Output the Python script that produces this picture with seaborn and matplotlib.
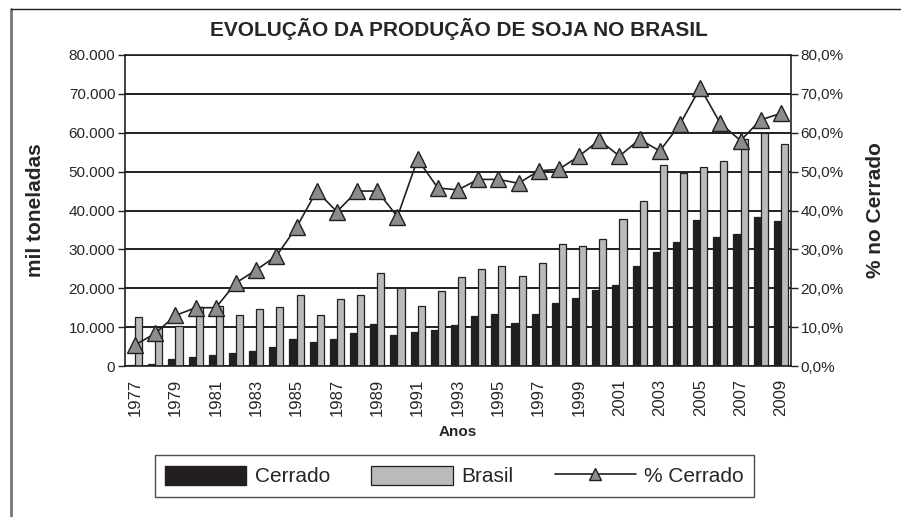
#!/usr/bin/env python

import numpy as np
import pandas as pd
import seaborn as sns
import matplotlib
matplotlib.use("Agg")
import matplotlib.pyplot as plt
from matplotlib.patches import Patch
from matplotlib.lines import Line2D
from matplotlib.ticker import FuncFormatter

# Produção de soja (mil toneladas) e participação do Cerrado (%)
anos = list(range(1977, 2010))
cerrado = [300, 400, 1700, 2400, 2900, 3300, 3900, 5000, 7000, 6300,
           7000, 8500, 10800, 8100, 8700, 9300, 10500, 12900, 13300, 11100,
           13400, 16300, 17400, 19600, 20800, 25600, 29300, 31800, 37500, 33200,
           34000, 38200, 37300]
brasil = [12600, 10100, 10300, 15200, 15500, 13000, 14700, 15200, 18300, 13100,
          17200, 18300, 24000, 20100, 15400, 19400, 22800, 25000, 25700, 23100,
          26600, 31400, 30900, 32700, 37700, 42500, 51700, 49600, 51300, 52800,
          58400, 60000, 57000]
pct_cerrado = [5.4, 8.4, 13.0, 15.0, 15.0, 21.4, 24.7, 28.3, 35.7, 45.0,
               39.7, 45.0, 45.0, 38.4, 53.2, 45.8, 45.3, 48.0, 48.0, 47.0,
               50.2, 50.6, 54.0, 58.1, 54.0, 58.3, 55.3, 62.2, 71.6, 62.4,
               58.0, 63.3, 65.0]

PRETO = "#231f20"
CINZA = "#b9babc"
TRIANGULO = "#8c8c8c"

sns.set_style("white")
plt.rcParams["font.family"] = ["Liberation Sans", "DejaVu Sans"]

df = pd.DataFrame({
    "ano": anos * 2,
    "serie": ["Cerrado"] * len(anos) + ["Brasil"] * len(anos),
    "valor": cerrado + brasil,
})
df_pct = pd.DataFrame({"pos": np.arange(len(anos)), "pct": pct_cerrado})

fig = plt.figure(figsize=(9.01, 5.17), dpi=100)
ax = fig.add_axes([125 / 901, 1 - 366 / 517, 666 / 901, 311 / 517])

sns.barplot(data=df, x="ano", y="valor", hue="serie",
            palette={"Cerrado": PRETO, "Brasil": CINZA}, saturation=1,
            width=0.7, edgecolor=PRETO, linewidth=0.9, legend=False, ax=ax)

ax.set_ylim(0, 80000)
ax.set_yticks(range(0, 80001, 10000))
ax.yaxis.set_major_formatter(FuncFormatter(lambda v, p: f"{int(v):,}".replace(",", ".")))
ax.yaxis.grid(True, color=PRETO, lw=1.4)
ax.set_axisbelow(True)

ax.set_xlim(-0.5, len(anos) - 0.5)
ax.set_xticks(range(0, len(anos), 2))
ax.set_xticklabels([str(a) for a in anos[::2]], rotation=90, fontsize=12)
ax.set_xticks(np.arange(-0.5, len(anos)), minor=True)
ax.tick_params(axis="x", which="major", length=0, pad=9)
ax.tick_params(axis="x", which="minor", length=5, width=1, color=PRETO, direction="out")
ax.tick_params(axis="y", length=5, width=1, color=PRETO, direction="out", labelsize=11, pad=2)

for s in ["left", "bottom", "top"]:
    ax.spines[s].set_color(PRETO)
    ax.spines[s].set_linewidth(1.2)
ax.spines["right"].set_visible(False)

ax.set_xlabel("Anos", fontsize=11, fontweight="bold")
ax.xaxis.set_label_coords(0.5, -0.19)
ax.set_ylabel("mil toneladas", fontsize=15, fontweight="bold")
ax.yaxis.set_label_coords(-0.12, 0.5)

ax2 = ax.twinx()
sns.lineplot(data=df_pct, x="pos", y="pct", color=PRETO, lw=1.2, marker="^",
             markersize=11, markerfacecolor=TRIANGULO, markeredgecolor=PRETO,
             markeredgewidth=1, ax=ax2)
ax2.set_ylim(0, 80)
ax2.set_yticks(range(0, 81, 10))
ax2.yaxis.set_major_formatter(FuncFormatter(lambda v, p: f"{v:.1f}%".replace(".", ",")))
ax2.tick_params(axis="y", length=5, width=1, color=PRETO, direction="out", labelsize=11, pad=2)
for s in ["left", "bottom", "top"]:
    ax2.spines[s].set_visible(False)
ax2.spines["right"].set_color(PRETO)
ax2.spines["right"].set_linewidth(1.2)
ax2.set_ylabel("% no Cerrado", fontsize=15, fontweight="bold", rotation=90)
ax2.yaxis.set_label_coords(1.113, 0.5)
ax2.set_xlabel("")

fig.text(459 / 901, 1 - 29 / 517, "EVOLUÇÃO DA PRODUÇÃO DE SOJA NO BRASIL",
         ha="center", va="center", fontsize=15, fontweight="bold")

handles = [
    Patch(facecolor=PRETO, edgecolor=PRETO, label="Cerrado"),
    Patch(facecolor=CINZA, edgecolor=PRETO, lw=0.9, label="Brasil"),
    Line2D([], [], color=PRETO, lw=1.2, marker="^", markersize=8,
           markerfacecolor=TRIANGULO, markeredgecolor=PRETO, label="% Cerrado"),
]
leg = fig.legend(handles=handles, loc="center", bbox_to_anchor=(454.5 / 901, 1 - 476 / 517),
                 ncol=3, fontsize=15, frameon=True, fancybox=False, edgecolor=PRETO,
                 handlelength=3.9, handleheight=1.05, handletextpad=0.4,
                 columnspacing=2.0, borderpad=0.5)
leg.get_frame().set_linewidth(1.0)

# moldura da figura
fig.add_artist(Line2D([11 / 901, 11 / 901], [0, 1 - 9 / 517], transform=fig.transFigure,
                      color="#777777", lw=2))
fig.add_artist(Line2D([11 / 901, 1], [1 - 9 / 517, 1 - 9 / 517], transform=fig.transFigure,
                      color=PRETO, lw=1))

fig.savefig("out.png", dpi=100)
plt.close(fig)
